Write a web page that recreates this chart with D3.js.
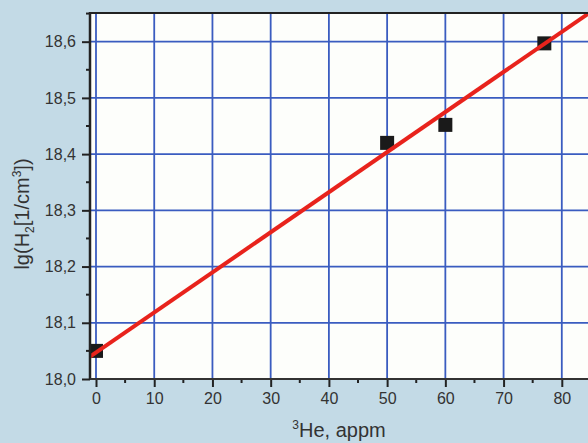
<!DOCTYPE html>
<html lang="en">
<head>
  <meta charset="UTF-8">
  <title>lg(H2) vs 3He</title>
  <style>
body { margin: 0; background: #c3dae6; }
svg { display: block; }
  </style>
</head>
<body>
  <div id="chart"></div>
  <script src="https://d3js.org/d3.v7.min.js"></script>
  <script>
const heValues = [0, 50, 60, 77];
const lgH2Values = [18.05, 18.42, 18.452, 18.597];
const xTicks = [0, 10, 20, 30, 40, 50, 60, 70, 80];
const yTicks = [18.0, 18.1, 18.2, 18.3, 18.4, 18.5, 18.6];
const fitIntercept = 18.047;
const fitSlope = 0.00713;

const width = 588, height = 443;
const mLeft = 90, mTop = 13, mBottom = 379, mRight = 588;

const svg = d3.select("#chart").append("svg")
  .attr("width", width)
  .attr("height", height);

const x = d3.scaleLinear().domain([-1.03, 84.5]).range([mLeft, mRight]);
const y = d3.scaleLinear().domain([18.0, 18.651]).range([mBottom, mTop]);

// plot area
svg.append("rect")
  .attr("x", mLeft).attr("y", mTop)
  .attr("width", mRight - mLeft).attr("height", mBottom - mTop)
  .attr("fill", "#fdfefb");

// grid
svg.append("g")
  .selectAll("line")
  .data(xTicks)
  .join("line")
  .attr("x1", d => x(d)).attr("x2", d => x(d))
  .attr("y1", mTop).attr("y2", mBottom)
  .attr("stroke", "#3a5cc0")
  .attr("stroke-width", 1.8);

svg.append("g")
  .selectAll("line")
  .data(yTicks.slice(1))
  .join("line")
  .attr("x1", mLeft).attr("x2", mRight)
  .attr("y1", d => y(d)).attr("y2", d => y(d))
  .attr("stroke", "#3a5cc0")
  .attr("stroke-width", 1.8);

// points
const sq = 14;
svg.append("g")
  .selectAll("rect")
  .data(heValues)
  .join("rect")
  .attr("x", d => x(d) - sq / 2)
  .attr("y", (d, i) => y(lgH2Values[i]) - sq / 2)
  .attr("width", sq).attr("height", sq)
  .attr("fill", "#1a1a1a");

// fit line
const line = d3.line().x(d => x(d)).y(d => y(fitIntercept + fitSlope * d));
svg.append("path")
  .datum([-1.03, 84.5])
  .attr("d", line)
  .attr("fill", "none")
  .attr("stroke", "#e8231c")
  .attr("stroke-width", 4);

// axes
const fmt = d => d.toFixed(1).replace(".", ",");
const xAxis = d3.axisBottom(x).tickValues(xTicks).tickSize(8).tickPadding(6).tickFormat(d3.format("d"));
const yAxis = d3.axisLeft(y).tickValues(yTicks).tickSize(8).tickPadding(6).tickFormat(fmt);

const gx = svg.append("g").attr("transform", `translate(0,${mBottom})`).call(xAxis);
const gy = svg.append("g").attr("transform", `translate(${mLeft},0)`).call(yAxis);

[gx, gy].forEach(g => {
  g.select(".domain").remove();
  g.selectAll(".tick line").attr("stroke", "#222").attr("stroke-width", 2);
  g.selectAll(".tick text")
    .attr("fill", "#333")
    .style("font-family", "Liberation Sans, Arial, sans-serif")
    .style("font-size", "16px");
});

// minor ticks
const xMinor = xTicks.map(d => d + 5);
const yMinor = yTicks.map(d => d + 0.05);
svg.append("g")
  .selectAll("line")
  .data(xMinor.filter(d => x(d) < mRight))
  .join("line")
  .attr("x1", d => x(d)).attr("x2", d => x(d))
  .attr("y1", mBottom).attr("y2", mBottom + 4)
  .attr("stroke", "#222").attr("stroke-width", 2);
svg.append("g")
  .selectAll("line")
  .data(yMinor.filter(d => y(d) > mTop))
  .join("line")
  .attr("x1", mLeft - 4).attr("x2", mLeft)
  .attr("y1", d => y(d)).attr("y2", d => y(d))
  .attr("stroke", "#222").attr("stroke-width", 2);

// frame lines
svg.append("line")
  .attr("x1", mLeft).attr("x2", mLeft).attr("y1", mTop - 1).attr("y2", mBottom + 1)
  .attr("stroke", "#222").attr("stroke-width", 2.5);
svg.append("line")
  .attr("x1", mLeft).attr("x2", mRight).attr("y1", mBottom).attr("y2", mBottom)
  .attr("stroke", "#333").attr("stroke-width", 2);
svg.append("line")
  .attr("x1", mLeft).attr("x2", mRight).attr("y1", mTop).attr("y2", mTop)
  .attr("stroke", "#222").attr("stroke-width", 2);

// axis titles
const xt = svg.append("text")
  .attr("x", 339).attr("y", 437)
  .attr("text-anchor", "middle")
  .attr("fill", "#333")
  .style("font-family", "Liberation Sans, Arial, sans-serif")
  .style("font-size", "20px");
xt.append("tspan").attr("dy", "-8").style("font-size", "12px").text("3");
xt.append("tspan").attr("dy", "8").text("He, appm");

const yt = svg.append("text")
  .attr("transform", "translate(29,214) rotate(-90)")
  .attr("text-anchor", "middle")
  .attr("fill", "#333")
  .style("font-family", "Liberation Sans, Arial, sans-serif")
  .style("font-size", "20px");
yt.append("tspan").text("lg(H");
yt.append("tspan").attr("dy", "5").style("font-size", "12px").text("2");
yt.append("tspan").attr("dy", "-5").text("[1/cm");
yt.append("tspan").attr("dy", "-8").style("font-size", "12px").text("3");
yt.append("tspan").attr("dy", "8").text("])");
  </script>
</body>
</html>
